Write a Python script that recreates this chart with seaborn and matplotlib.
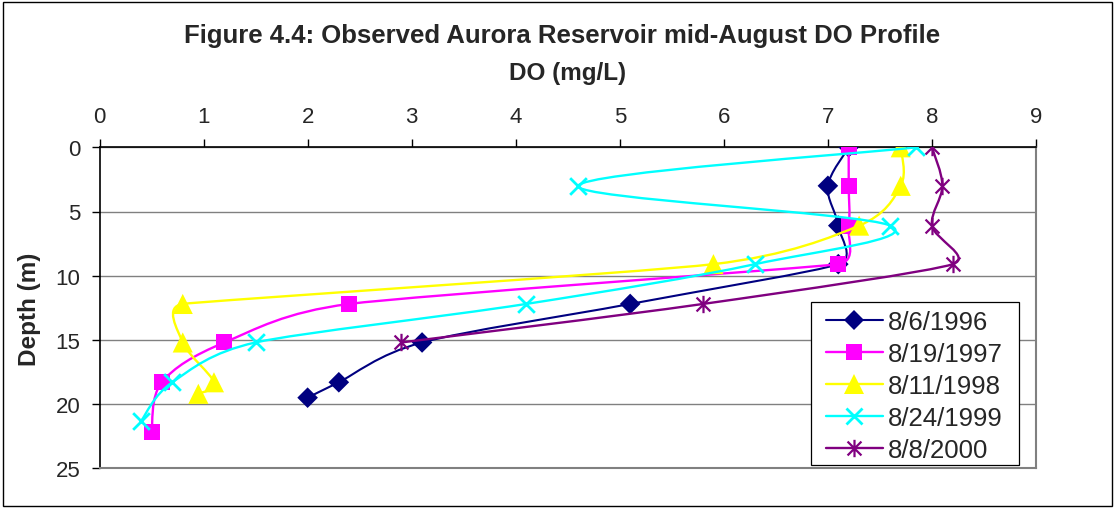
import numpy as np
import matplotlib
matplotlib.use("Agg")
import matplotlib.pyplot as plt
from matplotlib.path import Path
from matplotlib.patches import PathPatch, Rectangle
from matplotlib.lines import Line2D
from matplotlib.markers import MarkerStyle
import seaborn as sns

# ---- data -------------------------------------------------------------
series_labels = ["8/6/1996", "8/19/1997", "8/11/1998", "8/24/1999", "8/8/2000"]

depth_1996 = [0.0, 3.0, 6.1, 9.1, 12.2, 15.2, 18.3, 19.5]
do_1996 = [7.2, 7.0, 7.1, 7.1, 5.1, 3.1, 2.3, 2.0]

depth_1997 = [0.0, 3.0, 6.1, 9.1, 12.2, 15.2, 18.3, 22.2]
do_1997 = [7.2, 7.2, 7.2, 7.1, 2.4, 1.2, 0.6, 0.5]

depth_1998 = [0.0, 3.0, 6.1, 9.1, 12.2, 15.2, 18.3, 19.2]
do_1998 = [7.7, 7.7, 7.3, 5.9, 0.8, 0.8, 1.1, 0.95]

depth_1999 = [0.0, 3.0, 6.1, 9.1, 12.2, 15.2, 18.3, 21.3]
do_1999 = [7.85, 4.6, 7.6, 6.3, 4.1, 1.5, 0.7, 0.4]

depth_2000 = [0.0, 3.0, 6.1, 9.1, 12.2, 15.2]
do_2000 = [8.0, 8.1, 8.0, 8.2, 5.8, 2.9]

x_ticks = [0, 1, 2, 3, 4, 5, 6, 7, 8, 9]
y_ticks = [0, 5, 10, 15, 20, 25]

title = "Figure 4.4: Observed Aurora Reservoir mid-August DO Profile"
x_label = "DO (mg/L)"
y_label = "Depth (m)"

# ---- styling ----------------------------------------------------------
sns.set_theme(style="white")
plt.rcParams["font.family"] = ["Liberation Sans", "DejaVu Sans"]

W_PX, H_PX = 1114, 510


def fx(px):
    return px / W_PX


def fy(py):
    return 1 - py / H_PX


# asterisk-style star: an X with a vertical bar through it
star = Path(
    [(-1, -1), (1, 1), (-1, 1), (1, -1), (0, -1.25), (0, 1.25)],
    [Path.MOVETO, Path.LINETO, Path.MOVETO, Path.LINETO, Path.MOVETO, Path.LINETO],
)

styles = [
    dict(color="#000080", marker="D", ms=10.5, mew=0, lw=1.5),
    dict(color="#FF00FF", marker="s", ms=11.5, mew=0, lw=1.7),
    dict(color="#FFFF00", marker="^", ms=14.5, mew=0, lw=1.7),
    dict(color="#00FFFF", marker="x", ms=12.0, mew=2.0, lw=1.7),
    dict(color="#800080", marker=star, ms=12.5, mew=1.6, lw=1.7),
]
series = [
    (do_1996, depth_1996),
    (do_1997, depth_1997),
    (do_1998, depth_1998),
    (do_1999, depth_1999),
    (do_2000, depth_2000),
]


def smooth_path(ax, xs, ys):
    """Cubic Bezier path through the points, built in display space.

    Tangents follow the neighbouring points (length 1/6 of the chord
    between them), capped at half of the shorter adjacent segment so
    that sharp turns do not overshoot.
    """
    pts = ax.transData.transform(np.column_stack([xs, ys]).astype(float))
    n = len(pts)
    tangents = []
    for i in range(n):
        prev_p = pts[i - 1] if i > 0 else pts[i]
        next_p = pts[i + 1] if i < n - 1 else pts[i]
        d = (next_p - prev_p) / 6.0
        seg = [np.linalg.norm(pts[i] - pts[j]) for j in (i - 1, i + 1) if 0 <= j < n]
        cap = 0.5 * min(seg)
        length = np.linalg.norm(d)
        if length > cap and length > 0:
            d = d * cap / length
        tangents.append(d)
    verts = [pts[0]]
    codes = [Path.MOVETO]
    for i in range(n - 1):
        verts += [pts[i] + tangents[i], pts[i + 1] - tangents[i + 1], pts[i + 1]]
        codes += [Path.CURVE4] * 3
    verts = ax.transData.inverted().transform(np.array(verts))
    return Path(verts, codes)


fig = plt.figure(figsize=(W_PX / 100, H_PX / 100), dpi=100)
fig.patch.set_facecolor("white")
ax = fig.add_axes([fx(99.5), fy(469.3), fx(1036) - fx(99.5), fy(148.3) - fy(469.3)])
ax.set_facecolor("white")
ax.set_xlim(0, 9)
ax.set_ylim(25, 0)

handles = []
for k, ((xs, ys), st) in enumerate(zip(series, styles)):
    z = 3 + k
    ax.add_patch(PathPatch(smooth_path(ax, xs, ys), facecolor="none", edgecolor=st["color"],
                           lw=st["lw"], zorder=z, capstyle="round", joinstyle="round"))
    filled = MarkerStyle(st["marker"]).is_filled() and st["mew"] == 0
    sns.scatterplot(
        x=xs, y=ys, ax=ax, marker=st["marker"], s=st["ms"] ** 2,
        color=st["color"], edgecolor=st["color"] if not filled else "none",
        linewidth=st["mew"] if st["mew"] else 0, zorder=z + 0.5, legend=False,
    )
    handles.append(Line2D([], [], color=st["color"], lw=st["lw"], marker=st["marker"],
                          markersize=st["ms"], markeredgewidth=st["mew"],
                          markerfacecolor=st["color"], markeredgecolor=st["color"]))

# axes, ticks and grid
ax.set_xlim(0, 9)
ax.set_ylim(25, 0)
ax.set_xticks(x_ticks)
ax.set_yticks(y_ticks)
ax.xaxis.tick_top()
ax.tick_params(axis="x", which="major", direction="out", length=5.8, width=1.0,
               color="black", labelsize=16, pad=8.5, top=True, bottom=False,
               labeltop=True, labelbottom=False)
ax.tick_params(axis="y", which="major", direction="out", length=5.8, width=1.0,
               color="black", labelsize=16, pad=8.0, left=True)
ax.yaxis.grid(True, color="#808080", lw=1.0)
ax.xaxis.grid(False)
ax.set_axisbelow(True)
for side in ("top", "left"):
    ax.spines[side].set_color("black")
    ax.spines[side].set_linewidth(1.2)
for side in ("bottom", "right"):
    ax.spines[side].set_color("#808080")
    ax.spines[side].set_linewidth(1.5)

# titles
fig.text(fx(562), fy(43), title, ha="center", va="baseline", fontsize=18.5,
         fontweight="bold")
fig.text(fx(567.8), fy(80), x_label, ha="center", va="baseline", fontsize=17.5,
         fontweight="bold")
fig.text(fx(36), fy(309), y_label, rotation=90, rotation_mode="anchor", ha="center",
         va="baseline", fontsize=17.5, fontweight="bold")

# legend box and entries
ax.add_patch(Rectangle((fx(811), fy(466)), fx(1019) - fx(811), fy(303) - fy(466),
                       transform=fig.transFigure, facecolor="white", edgecolor="black",
                       lw=0.9, zorder=9, clip_on=False))
leg = ax.legend(handles, series_labels, loc="upper left",
                bbox_to_anchor=(fx(826), fy(311)), bbox_transform=fig.transFigure,
                frameon=False, fontsize=18.5, borderaxespad=0, borderpad=0,
                handlelength=2.2, handletextpad=0.22, labelspacing=0.31)
leg.set_zorder(10)

# outer chart border
fig.add_artist(Rectangle((fx(3), fy(507)), fx(1112) - fx(3), fy(3) - fy(507),
                         transform=fig.transFigure, fill=False, edgecolor="black",
                         lw=1.0))

fig.savefig("out.png", dpi=100)
